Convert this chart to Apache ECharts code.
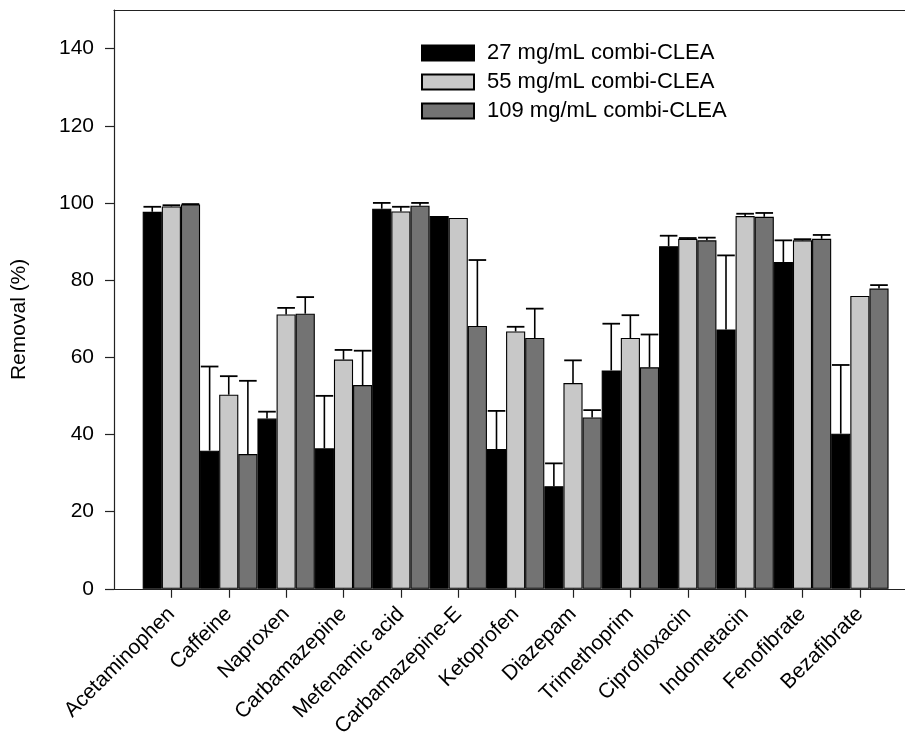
<!DOCTYPE html>
<html><head><meta charset="utf-8">
<script src="https://cdn.jsdelivr.net/npm/echarts@6/dist/echarts.min.js"></script>
<style>html,body{margin:0;padding:0;background:#fff}#c{width:905px;height:740px}</style>
</head><body><div id="c"></div>
<script>
const categories = ['Acetaminophen','Caffeine','Naproxen','Carbamazepine','Mefenamic acid','Carbamazepine-E','Ketoprofen','Diazepam','Trimethoprim','Ciprofloxacin','Indometacin','Fenofibrate','Bezafibrate'];
const seriesNames = ['27 mg/mL combi-CLEA','55 mg/mL combi-CLEA','109 mg/mL combi-CLEA'];
const removal27 = [97.7,35.8,44.1,36.4,98.5,96.6,36.2,26.6,56.6,88.8,67.2,84.7,40.2];
const error27   = [1.3,21.8,1.8,13.6,1.5,0,9.9,5.9,12.1,2.7,19.2,5.6,17.8];
const removal55 = [99.1,50.3,71.1,59.4,97.8,96.1,66.7,53.3,65.0,90.7,96.6,90.3,75.9];
const error55   = [0.3,4.8,1.7,2.5,1.2,0,1.2,5.9,5.9,0.2,0.6,0.3,0];
const removal109 = [99.6,34.9,71.3,52.8,99.3,68.1,65.0,44.4,57.4,90.3,96.4,90.7,77.8];
const error109   = [0.1,19.0,4.3,8.9,0.7,17.1,7.6,1.9,8.5,0.7,1.0,1.0,0.9];
const yTicks = [0,20,40,60,80,100,120,140];

const colors = ['#000000','#c8c8c8','#737373'];
const FONT = '"Liberation Sans", Arial, sans-serif';
const values = [removal27, removal55, removal109];
const errors = [error27, error55, error109];
const catPos = categories.map((c, i) => i + 1);
// axis runs from 0 to past the last category; plot continues to the right edge
const GRID_LEFT = 114, CAT_STEP = 57.375;
const xMax = (905 - GRID_LEFT) / CAT_STEP;

const series = [];
values.forEach((v, k) => {
  series.push({
    name: seriesNames[k], type: 'bar',
    data: v.map((val, i) => [catPos[i], val]),
    barWidth: CAT_STEP / 3, barGap: '0%',
    itemStyle: { color: colors[k], borderColor: '#000', borderWidth: 1.1 },
    z: 2
  });
});
errors.forEach((e, k) => {
  const data = [];
  e.forEach((err, i) => { if (err > 0) data.push([catPos[i], values[k][i], err]); });
  series.push({
    type: 'custom', name: 'err' + k, data: data, z: 5,
    encode: { x: 0, y: 1 },
    renderItem: function (params, api) {
      const xi = api.value(0), v = api.value(1), er = api.value(2);
      const p0 = api.coord([xi, v]);
      const p1 = api.coord([xi, v + er]);
      const band = api.size([1, 0])[0];
      const bw = band / 3;
      const cx = p0[0] + (k - 1) * bw;
      const half = bw * 0.46;
      return { type: 'group', children: [
        { type: 'line', shape: { x1: cx, y1: p0[1], x2: cx, y2: p1[1] }, style: { stroke: '#000', lineWidth: 1.6 } },
        { type: 'line', shape: { x1: cx - half, y1: p1[1], x2: cx + half, y2: p1[1] }, style: { stroke: '#000', lineWidth: 1.8 } }
      ]};
    }
  });
});

const chart = echarts.init(document.getElementById('c'));
chart.setOption({
  animation: false,
  backgroundColor: '#fff',
  textStyle: { fontFamily: FONT },
  legend: {
    data: seriesNames.map(n => ({ name: n, icon: 'rect' })),
    orient: 'vertical', left: 421, top: 42, padding: 0,
    itemWidth: 52, itemHeight: 15, itemGap: 7, selectedMode: false,
    textStyle: { fontSize: 22, color: '#000', fontFamily: FONT, padding: [0, 0, 0, 8] }
  },
  grid: { left: GRID_LEFT, top: 10, right: 0, bottom: 150, containLabel: false },
  xAxis: [{
    type: 'value', min: 0, max: xMax, interval: 1,
    axisLine: { show: true, onZero: false, lineStyle: { color: '#222', width: 1.2 } },
    axisTick: { show: true, length: 9, inside: false, lineStyle: { color: '#222', width: 1.2 }, customValues: catPos },
    axisLabel: { rotate: 45, fontSize: 21, color: '#000', margin: 22, fontFamily: FONT,
      customValues: catPos, formatter: v => categories[Math.round(v) - 1] || '' },
    splitLine: { show: false }
  }, {
    type: 'value', min: 0, max: xMax, position: 'top',
    axisLine: { show: true, onZero: false, lineStyle: { color: '#222', width: 1.2 } },
    axisTick: { show: false }, axisLabel: { show: false }, splitLine: { show: false }
  }],
  yAxis: {
    type: 'value', min: 0, max: 150, interval: 10,
    name: 'Removal (%)', nameLocation: 'middle', nameGap: 84, nameRotate: 90,
    nameTextStyle: { fontSize: 21, color: '#000', fontFamily: FONT, padding: [0, 40, 0, 0] },
    axisLine: { show: true, lineStyle: { color: '#222', width: 1.2 } },
    axisTick: { show: true, length: 9, lineStyle: { color: '#222', width: 1.2 }, customValues: yTicks },
    axisLabel: { fontSize: 21, color: '#000', margin: 20, customValues: yTicks, fontFamily: FONT },
    splitLine: { show: false }
  },
  series: series
});
</script></body></html>
